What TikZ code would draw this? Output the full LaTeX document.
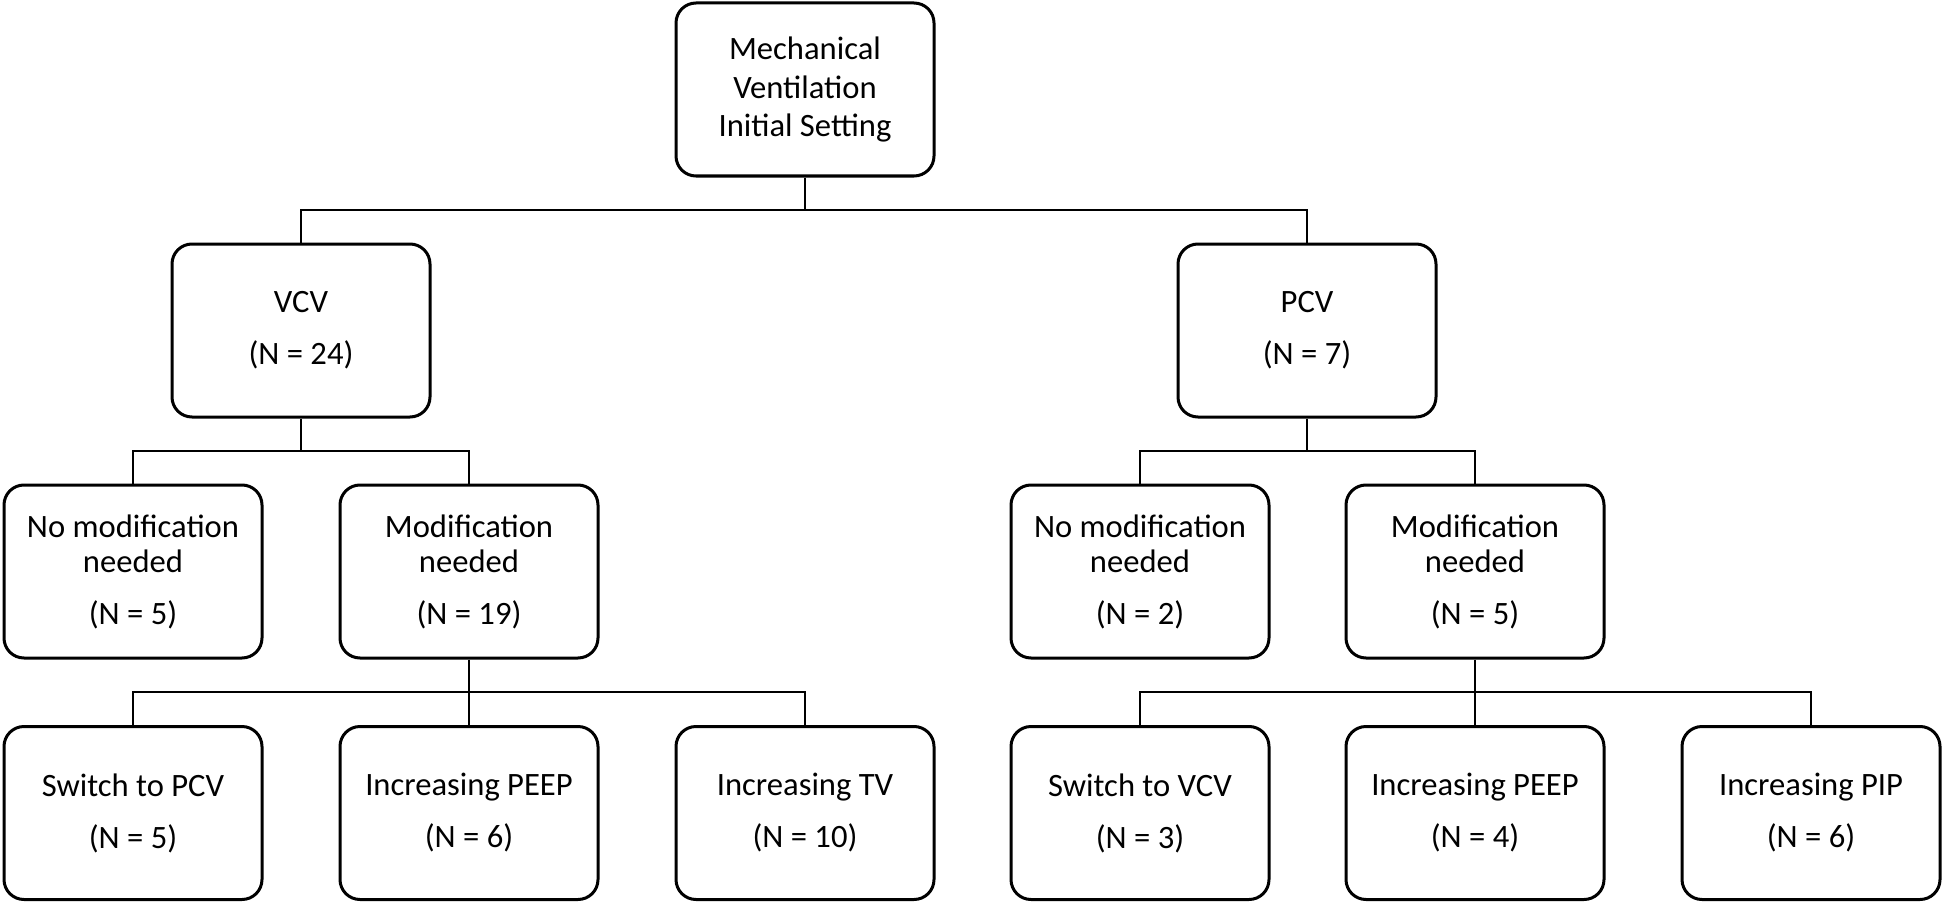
\documentclass[tikz,border=0pt]{standalone}
\usepackage{fontspec}
\setmainfont{Carlito}
\begin{document}
\begin{tikzpicture}[x=0.5pt,y=-0.5pt,
  box/.style={draw=black, line width=1.5pt, rounded corners=10pt, fill=white,
    minimum width=129pt, minimum height=86.5pt, align=center, inner sep=0pt,
    font=\fontsize{16.3}{17.5}\selectfont},
  topbox/.style={box, font=\fontsize{16.3}{19.2}\selectfont},
  conn/.style={draw=black, line width=0.9pt}]
\useasboundingbox (0,0) rectangle (1944,904);
\node[topbox] (top) at (805,89.5) {Mechanical\\Ventilation\\Initial Setting};
\node[box] (vcv) at (301,330.5) {VCV\\[8.5pt](N = 24)};
\node[box] (pcv) at (1307,330.5) {PCV\\[8.5pt](N = 7)};
\node[box] (vno) at (133,571.5) {No modification\\needed\\[8.5pt](N = 5)};
\node[box] (vmod) at (469,571.5) {Modification\\needed\\[8.5pt](N = 19)};
\node[box] (pno) at (1140,571.5) {No modification\\needed\\[8.5pt](N = 2)};
\node[box] (pmod) at (1475,571.5) {Modification\\needed\\[8.5pt](N = 5)};
\node[box] (v1) at (133,813) {Switch to PCV\\[8.5pt](N = 5)};
\node[box] (v2) at (469,813) {Increasing PEEP\\[8.5pt](N = 6)};
\node[box] (v3) at (805,813) {Increasing TV\\[8.5pt](N = 10)};
\node[box] (p1) at (1140,813) {Switch to VCV\\[8.5pt](N = 3)};
\node[box] (p2) at (1475,813) {Increasing PEEP\\[8.5pt](N = 4)};
\node[box] (p3) at (1811,813) {Increasing PIP\\[8.5pt](N = 6)};
% connectors
\draw[conn] (top.south) -- (top.south |- 0,210) -| (vcv.north);
\draw[conn] (top.south |- 0,210) -| (pcv.north);
\draw[conn] (vcv.south) -- (vcv.south |- 0,451) -| (vno.north);
\draw[conn] (vcv.south |- 0,451) -| (vmod.north);
\draw[conn] (pcv.south) -- (pcv.south |- 0,451) -| (pno.north);
\draw[conn] (pcv.south |- 0,451) -| (pmod.north);
\draw[conn] (vmod.south) -- (v2.north);
\draw[conn] (vmod.south |- 0,692) -| (v1.north);
\draw[conn] (vmod.south |- 0,692) -| (v3.north);
\draw[conn] (pmod.south) -- (p2.north);
\draw[conn] (pmod.south |- 0,692) -| (p1.north);
\draw[conn] (pmod.south |- 0,692) -| (p3.north);
\end{tikzpicture}
\end{document}
